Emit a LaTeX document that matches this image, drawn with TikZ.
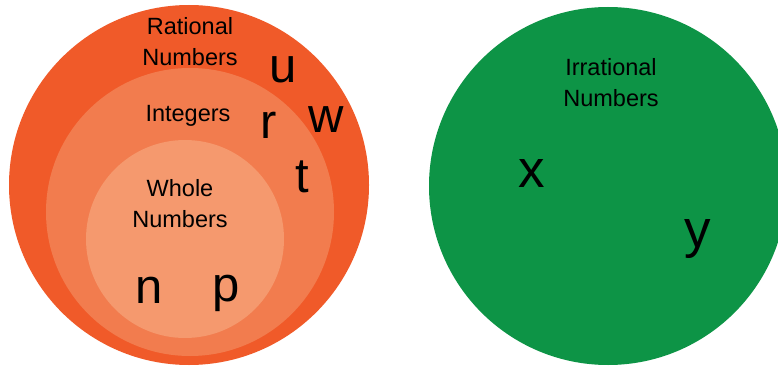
\documentclass[tikz,border=0pt]{standalone}
\usepackage{fontspec}
\setmainfont{Liberation Sans}
\usepackage{tikz}
\usetikzlibrary{positioning}
\definecolor{ratorange}{RGB}{240,90,41}
\definecolor{intorange}{RGB}{242,124,78}
\definecolor{wholeorange}{RGB}{245,153,110}
\definecolor{irrgreen}{RGB}{13,148,70}
\begin{document}
\begin{tikzpicture}[
    x=1pt, y=-1pt,
    numset/.style={circle, inner sep=0pt, draw=none},
    setname/.style={align=center, inner sep=0pt, font=\fontsize{23.5}{31}\selectfont},
    elem/.style={inner sep=0pt, anchor=base, font=\fontsize{49}{49}\selectfont},
    bigelem/.style={elem, font=\fontsize{53}{53}\selectfont}
]
\useasboundingbox (0,0) rectangle (778,366);

\begin{scope}
\clip (0,0) rectangle (778,366);

% Sets
\node[numset, fill=ratorange, minimum size=360pt] (rational) at (189,185) {};
\node[numset, fill=intorange, minimum size=288pt] (integers) at (190,212) {};
\node[numset, fill=wholeorange, minimum size=198pt] (whole) at (185,239) {};
\node[numset, fill=irrgreen, minimum size=358pt] (irrational) at (608,186) {};
\end{scope}

% Set names
\node[setname] (ratname) at (190,41.5) {Rational\\Numbers};
\node[setname, anchor=base] (intname) at (188,122) {Integers};
\node[setname] (wholename) at (180,203.5) {Whole\\Numbers};
\node[setname] (irrname) at (611,83) {Irrational\\Numbers};

% Elements
\node[elem] (u) at (283,83) {u};
\node[elem] (r) at (269,139) {r};
\node[elem] (w) at (326,133) {w};
\node[elem] (t) at (302,193) {t};
\node[elem] (n) at (149,303) {n};
\node[elem] (p) at (226,301) {p};
\node[bigelem] (x) at (532,187) {x};
\node[bigelem] (y) at (698,247) {y};

\end{tikzpicture}
\end{document}
